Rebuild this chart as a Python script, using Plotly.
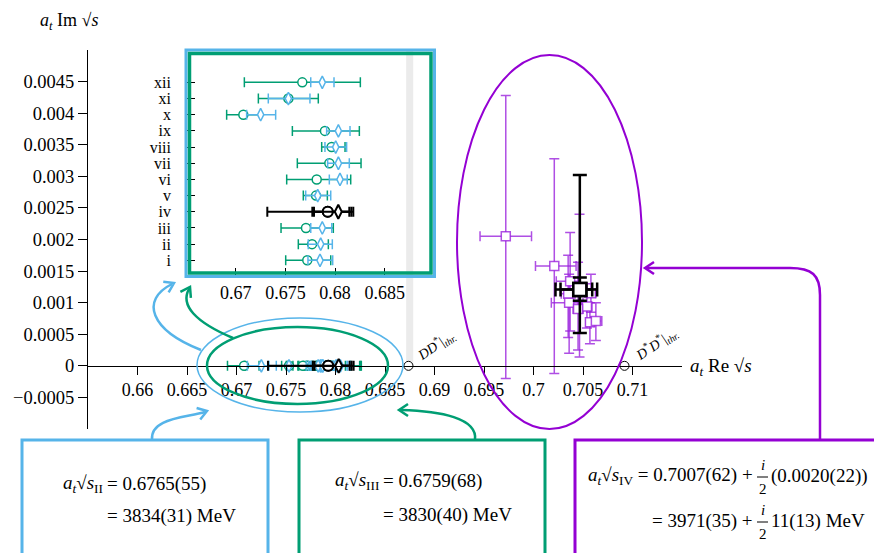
import math
import plotly.graph_objects as go

# ---------------- data ----------------
labels = ["i", "ii", "iii", "iv", "v", "vi", "vii", "viii", "ix", "x", "xi", "xii"]
row_pos = [1, 2, 3, 4, 5, 6, 7, 8, 9, 10, 11, 12]

# green circles
green_val = [0.67720, 0.67768, 0.67707, None, 0.67808, 0.67815, 0.67942, 0.67965, 0.67898, 0.67077, 0.67530, 0.67670]
green_lo = [0.67503, 0.67630, 0.67456, None, 0.67680, 0.67513, 0.67620, 0.67865, 0.67570, 0.66909, 0.67228, 0.67087]
green_hi = [0.67956, 0.67932, 0.67982, None, 0.67922, 0.68157, 0.68261, 0.68100, 0.68244, 0.67251, 0.67831, 0.68254]
# blue diamonds
blue_val = [0.67848, 0.67855, 0.67871, None, 0.67825, 0.68049, 0.68033, 0.68006, 0.68033, 0.67251, 0.67530, 0.67871]
blue_lo = [0.67727, 0.67730, 0.67755, None, 0.67704, 0.67942, 0.67925, 0.67898, 0.67915, 0.67110, 0.67328, 0.67755]
blue_hi = [0.67976, 0.67972, 0.67966, None, 0.67956, 0.68122, 0.68143, 0.68116, 0.68150, 0.67402, 0.67747, 0.67989]
# black reference row (iv)
black_circle = [0.67926]
black_circle_lo = [0.67318]
black_circle_hi = [0.68163]
black_circle_lo2 = [0.67771]
black_circle_hi2 = [0.68143]
black_diamond = [0.68032]
black_diamond_lo = [0.67788]
black_diamond_hi = [0.68183]

# purple poles (complex plane)
purple_re = [0.6972, 0.7021, 0.7037, 0.7035, 0.7036, 0.7058, 0.7054, 0.7045, 0.7057, 0.7063, 0.70465]
purple_im = [0.00205, 0.00158, 0.00134, 0.00114, 0.00100, 0.00115, 0.00094, 0.00090, 0.00069, 0.00071, 0.00121]
purple_re_lo = [0.6946, 0.7002, 0.7023, 0.7028, 0.7018, 0.7052, 0.7049, 0.7040, 0.7053, 0.7058, 0.7042]
purple_re_hi = [0.6998, 0.7043, 0.7045, 0.7042, 0.7050, 0.7063, 0.7059, 0.7050, 0.7061, 0.7069, 0.7051]
purple_im_lo = [-0.00020, -0.00012, 0.00055, 0.00045, 0.00020, 0.00085, 0.00060, 0.00025, 0.00035, 0.00040, 0.00014]
purple_im_hi = [0.00428, 0.00328, 0.00211, 0.00175, 0.00145, 0.00145, 0.00130, 0.00164, 0.00100, 0.00100, 0.00240]

# black pole
black_re = [0.70468]
black_im = [0.00121]
black_re_lo = [0.70222]
black_re_hi = [0.70643]
black_im_lo = [0.00052]
black_im_hi = [0.00302]
black_re_lo2 = [0.70273]
black_re_hi2 = [0.70593]
black_im_lo2 = [0.00103]
black_im_hi2 = [0.00140]

# thresholds
thresholds = [0.68737, 0.70919]
threshold_band = [0.68714, 0.68785]

x_ticks = [0.66, 0.665, 0.67, 0.675, 0.68, 0.685, 0.69, 0.695, 0.70, 0.705, 0.71]
x_tick_text = ["0.66", "0.665", "0.67", "0.675", "0.68", "0.685", "0.69", "0.695", "0.7", "0.705", "0.71"]
y_ticks = [-0.0005, 0, 0.0005, 0.001, 0.0015, 0.002, 0.0025, 0.003, 0.0035, 0.004, 0.0045]
y_tick_text = ["\u22120.0005", "0", "0.0005", "0.001", "0.0015", "0.002", "0.0025", "0.003", "0.0035", "0.004", "0.0045"]
inset_x_ticks = [0.67, 0.675, 0.68, 0.685]
inset_x_text = ["0.67", "0.675", "0.68", "0.685"]

# ---------------- styling ----------------
GREEN = "#009E73"
BLUE = "#56B4E9"
PURPLE = "#9400D3"
PURPLE_PT = "rgba(153,30,220,0.78)"
FONT = "Liberation Serif"

# the page places the figure 8 px from the top-left corner (default body margin)
OFF = 8
W, H = 882 - OFF, 553 - OFF
# plot-area edges in page pixels
L, R, T, B = 88, 682, 50, 429


def px(x):
    return (x - L) / (R - L)


def py(y):
    return (B - y) / (B - T)


fig = go.Figure()


def errs(vals, los, his):
    return [h - v for v, h in zip(vals, his)], [v - l for v, l in zip(vals, los)]


def add_pts(x, y, lo, hi, color, symbol, size, lw, xa, ya, cap=5, thick=1.5,
            ylo=None, yhi=None, fill="white"):
    ep, em = errs(x, lo, hi)
    kw = {}
    if ylo is not None:
        yp, ym = errs(y, ylo, yhi)
        kw["error_y"] = dict(type="data", symmetric=False, array=yp, arrayminus=ym,
                             color=color, thickness=thick, width=cap)
    fig.add_trace(go.Scatter(
        x=x, y=y, mode="markers", xaxis=xa, yaxis=ya,
        marker=dict(symbol=symbol, size=size, color=fill, line=dict(color=color, width=lw)),
        error_x=dict(type="data", symmetric=False, array=ep, arrayminus=em,
                     color=color, thickness=thick, width=cap),
        showlegend=False, hoverinfo="skip", **kw))


def filt(vals, los, his):
    out = [(v, l, h, r) for v, l, h, r in zip(vals, los, his, row_pos) if v is not None]
    return [o[0] for o in out], [o[1] for o in out], [o[2] for o in out], [o[3] for o in out]


gv, gl, gh, gr = filt(green_val, green_lo, green_hi)
bv, bl, bh, br = filt(blue_val, blue_lo, blue_hi)
iv_row = [row_pos[labels.index("iv")]]

# ---- level points: on the real axis of the main plot, and per row in the inset ----
for (xa, ya, use_rows) in [("x", "y", False), ("x2", "y2", True)]:
    yg = gr if use_rows else [0] * len(gv)
    yb = br if use_rows else [0] * len(bv)
    yk = iv_row if use_rows else [0]
    add_pts(gv, yg, gl, gh, GREEN, "circle", 9, 1.5, xa, ya)
    add_pts(bv, yb, bl, bh, BLUE, "diamond-tall", 9, 1.5, xa, ya)
    add_pts(black_circle, yk, black_circle_lo, black_circle_hi, "black", "circle", 10, 2, xa, ya, thick=2)
    add_pts(black_circle, yk, black_circle_lo2, black_circle_hi2, "black", "circle", 10, 2, xa, ya, thick=2)
    add_pts(black_diamond, yk, black_diamond_lo, black_diamond_hi, "black", "diamond-tall", 10, 2, xa, ya, thick=2)

# purple poles
add_pts(purple_re, purple_im, purple_re_lo, purple_re_hi, PURPLE_PT, "square", 9, 1.5, "x", "y",
        ylo=purple_im_lo, yhi=purple_im_hi, cap=5, thick=1.5)
# black pole
add_pts(black_re, black_im, black_re_lo, black_re_hi, "black", "square", 13, 2.5, "x", "y",
        ylo=black_im_lo, yhi=black_im_hi, cap=7, thick=2.5)
add_pts(black_re, black_im, black_re_lo2, black_re_hi2, "black", "square", 13, 2.5, "x", "y",
        ylo=black_im_lo2, yhi=black_im_hi2, cap=7, thick=2.5)

# thresholds
fig.add_trace(go.Scatter(x=thresholds, y=[0, 0], mode="markers",
                         marker=dict(symbol="circle", size=9, color="white", line=dict(color="black", width=1)),
                         showlegend=False, hoverinfo="skip"))

# ---------------- shapes ----------------
shapes = []
shapes.append(dict(type="rect", xref="x", yref="y", x0=threshold_band[0], x1=threshold_band[1],
                   y0=0, y1=0.005, fillcolor="#ebebeb", line=dict(width=0), layer="below"))

# inset frame
shapes.append(dict(type="rect", xref="paper", yref="paper", x0=px(186), x1=px(434.5), y0=py(276.5), y1=py(50),
                   line=dict(color=BLUE, width=3)))
shapes.append(dict(type="rect", xref="paper", yref="paper", x0=px(189.5), x1=px(431), y0=py(273), y1=py(53.5),
                   line=dict(color=GREEN, width=3.5)))

# ellipses
shapes.append(dict(type="circle", xref="paper", yref="paper", x0=px(197), x1=px(403), y0=py(412), y1=py(318),
                   line=dict(color=BLUE, width=1.5)))
shapes.append(dict(type="circle", xref="paper", yref="paper", x0=px(207), x1=px(388), y0=py(404), y1=py(327),
                   line=dict(color=GREEN, width=2.5)))
shapes.append(dict(type="circle", xref="paper", yref="paper", x0=px(457), x1=px(642), y0=py(429), y1=py(55),
                   line=dict(color=PURPLE, width=2)))


def path(cmds):
    out = []
    for c in cmds:
        if isinstance(c, str):
            out.append(c)
        else:
            out.append("%.5f,%.5f" % (px(c[0]), py(c[1])))
    return " ".join(out)


# curved arrows: (colour, curve, tip, previous point giving the direction)
arrows = [
    (BLUE, ["M", (152, 440), "C", (150, 418), (185, 418), (205, 412)], (207, 411), (185, 418)),
    (BLUE, ["M", (201, 350), "C", (150, 330), (140, 300), (172, 284)], (174, 283), (140, 300)),
    (GREEN, ["M", (233, 338), "C", (195, 322), (180, 305), (189, 289)], (190, 287), (180, 305)),
    (GREEN, ["M", (475, 440), "C", (478, 418), (440, 411), (401, 410)], (399, 410), (440, 410)),
    (PURPLE, ["M", (820, 440), "L", (820, 295), "C", (820, 275), (812, 268), (790, 268), "L", (647, 268)],
     (645, 268), (700, 268)),
]
for col, cmds, tip, prev in arrows:
    shapes.append(dict(type="path", xref="paper", yref="paper", path=path(cmds),
                       line=dict(color=col, width=2.5)))
    dx, dy = tip[0] - prev[0], tip[1] - prev[1]
    n = math.hypot(dx, dy)
    dx, dy = dx / n, dy / n
    nx, ny = -dy, dx
    p1 = (tip[0] - 9 * dx + 6 * nx, tip[1] - 9 * dy + 6 * ny)
    p3 = (tip[0] - 9 * dx - 6 * nx, tip[1] - 9 * dy - 6 * ny)
    shapes.append(dict(type="path", xref="paper", yref="paper",
                       path=path(["M", p1, "L", tip, "L", p3]), line=dict(color=col, width=2.5)))

# boxes
for col, x0, x1 in [(BLUE, 22, 268), (GREEN, 299, 545), (PURPLE, 575, 892)]:
    shapes.append(dict(type="rect", xref="paper", yref="paper", x0=px(x0), x1=px(x1), y0=py(570), y1=py(440),
                       line=dict(color=col, width=3), fillcolor="white"))

# fraction rules
for yy in (477, 522):
    shapes.append(dict(type="line", xref="paper", yref="paper", x0=px(757), x1=px(768), y0=py(yy), y1=py(yy),
                       line=dict(color="black", width=1)))

# ---------------- annotations ----------------
ann = []


def text(x, y, s, anchor="left", size=19, angle=0, yanchor="middle"):
    ann.append(dict(xref="paper", yref="paper", x=px(x), y=py(y), text=s, showarrow=False,
                    xanchor=anchor, yanchor=yanchor, textangle=angle,
                    font=dict(family=FONT, size=size, color="black")))


at = "<i>a</i><sub><i>t</i></sub>"
text(688, 367, at + " Re \u221a<i>s</i>", size=19)
text(38, 8.5, at + " Im \u221a<i>s</i>", size=18, yanchor="top")

text(436, 345, "<i>DD</i><sup>*</sup>|<sub><i>thr.</i></sub>", anchor="center", size=14, angle=-34)
text(656, 344, "<i>D</i><sup>*</sup><i>D</i><sup>*</sup>|<sub><i>thr.</i></sub>", anchor="center", size=14, angle=-34)

text(105, 484, at + "\u221a<i>s</i><sub>II</sub>", anchor="right")
text(105, 484, "= 0.6765(55)")
text(105, 516, "= 3834(31) MeV")

text(381, 481, at + "\u221a<i>s</i><sub>III</sub>", anchor="right")
text(381, 481, "= 0.6759(68)")
text(381, 515, "= 3830(40) MeV")

text(755, 476, at + "\u221a<i>s</i><sub>IV</sub> = 0.7007(62) +", anchor="right")
text(762.5, 465, "<i>i</i>", anchor="center", size=15)
text(762.5, 489, "2", anchor="center", size=15)
text(769, 476, "(0.0020(22))")
text(755, 521, "= 3971(35) +", anchor="right")
text(762.5, 510, "<i>i</i>", anchor="center", size=15)
text(762.5, 534, "2", anchor="center", size=15)
text(769, 521, "11(13) MeV")

# ---------------- layout ----------------
fig.update_layout(
    width=W, height=H,
    margin=dict(l=L - OFF, r=(882 - R), t=T - OFF, b=(553 - B), pad=0, autoexpand=False),
    paper_bgcolor="white", plot_bgcolor="rgba(0,0,0,0)",
    font=dict(family=FONT, size=18, color="black"),
    xaxis=dict(range=[0.655, 0.715], domain=[0, 1], anchor="free", position=1 / 6, automargin=False,
               showline=True, linecolor="black", linewidth=1, ticks="outside", ticklen=8,
               tickcolor="black", tickvals=x_ticks, ticktext=x_tick_text, showgrid=False,
               zeroline=False, tickfont=dict(size=18)),
    yaxis=dict(range=[-0.001, 0.005], domain=[0, 1], showline=True, linecolor="black", linewidth=1,
               ticks="outside", ticklen=9, tickcolor="black", tickvals=y_ticks, ticktext=y_tick_text,
               showgrid=False, zeroline=False, tickfont=dict(size=18.5), automargin=False),
    xaxis2=dict(range=[0.665, 0.69], domain=[px(186), px(434.5)], anchor="y2", showline=False,
                ticks="inside", ticklen=9, tickcolor="black", tickvals=inset_x_ticks, ticktext=inset_x_text,
                showgrid=False, zeroline=False, tickfont=dict(size=18), automargin=False,
                ticklabelstandoff=3),
    yaxis2=dict(range=[0, 14], domain=[py(276.5), 1.0], anchor="x2", showline=False,
                ticks="inside", ticklen=9, tickcolor="black", tickvals=row_pos, ticktext=labels,
                showgrid=False, zeroline=False, tickfont=dict(size=16), ticklabelstandoff=14,
                automargin=False),
    shapes=shapes, annotations=ann,
)

fig.write_html("out.html")
